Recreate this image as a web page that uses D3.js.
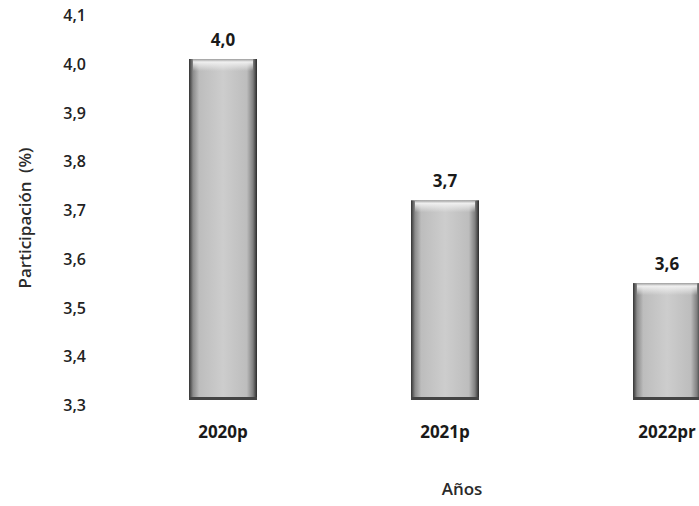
<!DOCTYPE html>
<html>
<head>
  <meta charset="utf-8">
  <title>Participación por año</title>
  <script src="https://cdn.jsdelivr.net/npm/d3@7"></script>
  <style>
    body { margin: 0; background: #fff; }
    svg { display: block; font-family: "Open Sans", sans-serif; }
    .tick-label { font-size: 16px; font-weight: 600; fill: #222; }
    .value-label { font-size: 17px; font-weight: 700; fill: #1a1a1a; }
    .cat-label { font-size: 17px; font-weight: 700; fill: #1a1a1a; }
    .axis-title { font-size: 17px; font-weight: 600; fill: #2a2a2a; }
  </style>
</head>
<body>
  <div id="chart"></div>
  <script>
    var categories = ["2020p", "2021p", "2022pr"];
    var values = [4.0, 3.71, 3.54];
    var valueLabels = ["4,0", "3,7", "3,6"];
    var tickValues = [3.3, 3.4, 3.5, 3.6, 3.7, 3.8, 3.9, 4.0, 4.1];

    var width = 699, height = 506;
    var barWidth = 68;

    var svg = d3.select("#chart").append("svg")
        .attr("width", width)
        .attr("height", height);

    var defs = svg.append("defs");

    // scanned-looking bar shading: dark sides, lighter middle
    var sideGrad = defs.append("linearGradient")
        .attr("id", "barSide")
        .attr("x1", 0).attr("x2", 1).attr("y1", 0).attr("y2", 0);
    [[0, "#333"], [0.06, "#8c8c8c"], [0.15, "#bdbdbd"], [0.5, "#cdcdcd"],
     [0.85, "#bdbdbd"], [0.94, "#808080"], [1, "#2a2a2a"]].forEach(function(s) {
      sideGrad.append("stop").attr("offset", s[0]).attr("stop-color", s[1]);
    });

    var topGrad = defs.append("linearGradient")
        .attr("id", "barTop")
        .attr("x1", 0).attr("x2", 0).attr("y1", 0).attr("y2", 1);
    [[0, "#9a9a9a", 1], [0.25, "#f2f2f2", 0.95], [1, "#f2f2f2", 0]].forEach(function(s) {
      topGrad.append("stop").attr("offset", s[0]).attr("stop-color", s[1]).attr("stop-opacity", s[2]);
    });

    var y = d3.scaleLinear()
        .domain([3.3, 4.0])
        .range([400, 59]);

    var x = d3.scalePoint()
        .domain(categories)
        .range([223, 667]);

    // y tick labels (no axis line in the original)
    svg.append("g").selectAll("text")
        .data(tickValues)
      .enter().append("text")
        .attr("class", "tick-label")
        .attr("x", 86)
        .attr("y", function(d) { return y(d) + 11; })
        .attr("text-anchor", "end")
        .text(function(d) { return d3.format(".1f")(d).replace(".", ","); });

    svg.append("text")
        .attr("class", "axis-title")
        .attr("transform", "translate(31,218) rotate(-90)")
        .attr("text-anchor", "middle")
        .attr("word-spacing", 4)
        .text("Participación (%)");

    var bars = svg.append("g").selectAll("g")
        .data(values)
      .enter().append("g");

    bars.append("rect")
        .attr("x", function(d, i) { return x(categories[i]) - barWidth / 2; })
        .attr("y", function(d) { return y(d); })
        .attr("width", barWidth)
        .attr("height", function(d) { return y(3.3) - y(d); })
        .attr("fill", "url(#barSide)");

    bars.append("rect")
        .attr("x", function(d, i) { return x(categories[i]) - barWidth / 2 + 4; })
        .attr("y", function(d) { return y(d); })
        .attr("width", barWidth - 8)
        .attr("height", 12)
        .attr("fill", "url(#barTop)");

    bars.append("rect")
        .attr("x", function(d, i) { return x(categories[i]) - barWidth / 2; })
        .attr("y", y(3.3) - 3)
        .attr("width", barWidth)
        .attr("height", 3)
        .attr("fill", "#444");

    bars.append("text")
        .attr("class", "value-label")
        .attr("x", function(d, i) { return x(categories[i]); })
        .attr("y", function(d) { return y(d) - 13; })
        .attr("text-anchor", "middle")
        .text(function(d, i) { return valueLabels[i]; });

    svg.append("g").selectAll("text")
        .data(categories)
      .enter().append("text")
        .attr("class", "cat-label")
        .attr("x", function(d) { return x(d); })
        .attr("y", 438)
        .attr("text-anchor", "middle")
        .text(function(d) { return d; });

    svg.append("text")
        .attr("class", "axis-title")
        .attr("x", 462)
        .attr("y", 495)
        .attr("text-anchor", "middle")
        .text("Años");
  </script>
</body>
</html>
